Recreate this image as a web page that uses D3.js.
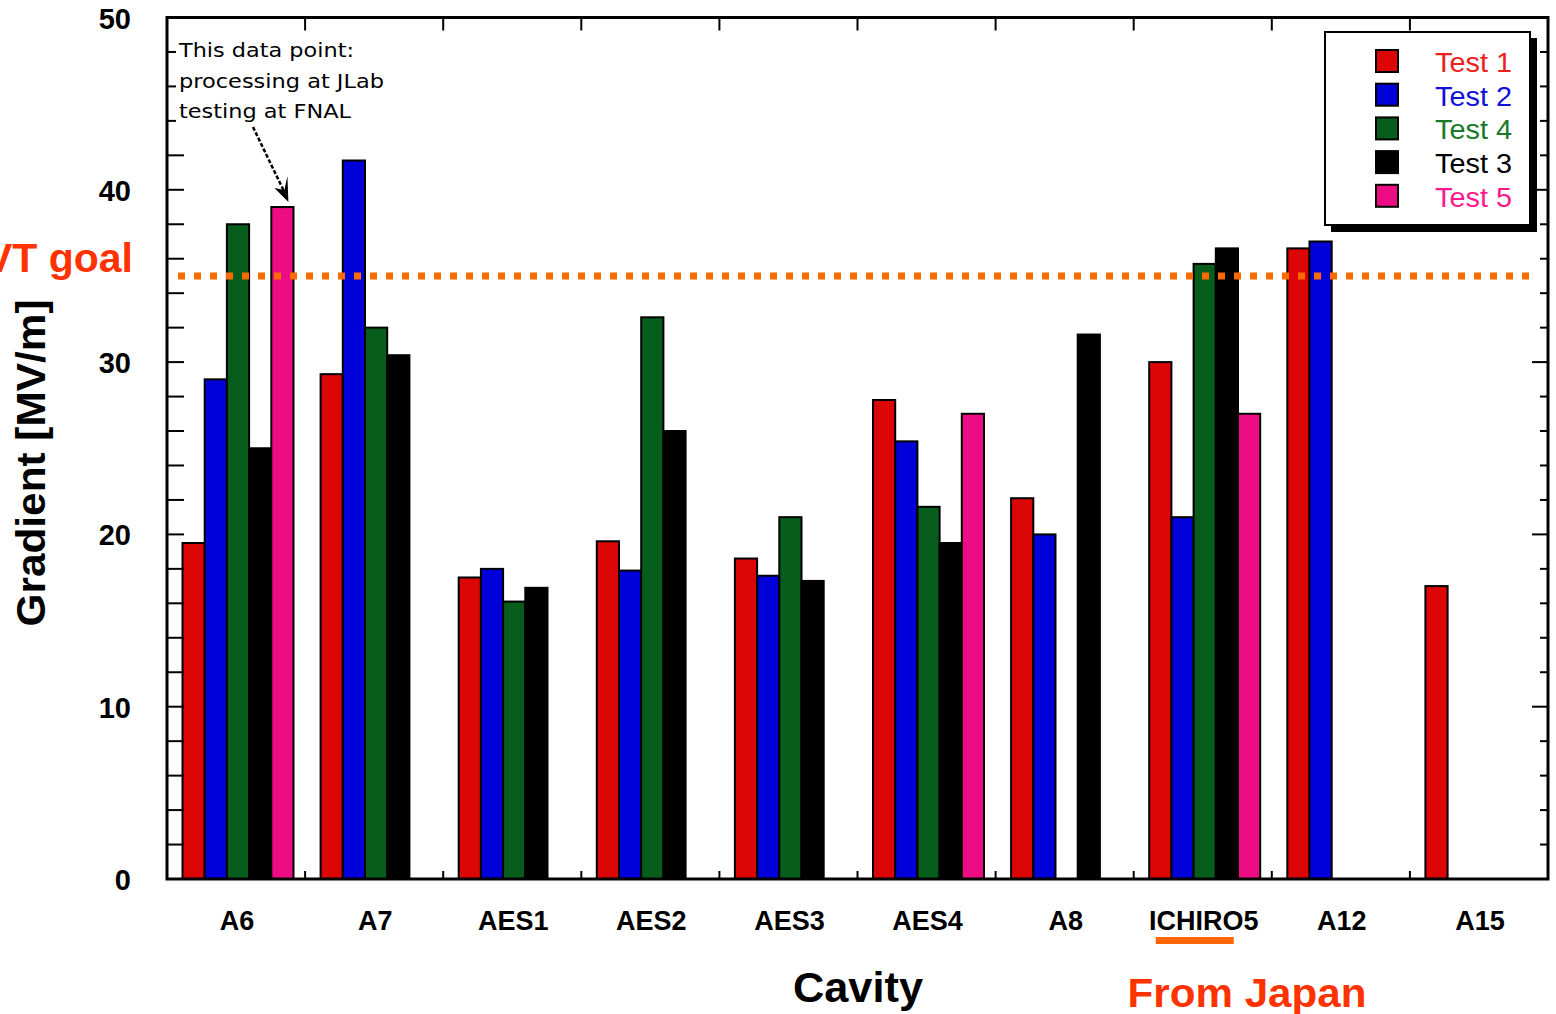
<!DOCTYPE html>
<html>
<head>
<meta charset="utf-8">
<script src="https://cdn.jsdelivr.net/npm/d3@7"></script>
<style>
  html, body { margin: 0; padding: 0; background: #fff; }
  svg { display: block; }
</style>
</head>
<body>
<svg id="chart" width="1556" height="1014"></svg>
<script>
// Cavity names along the x axis
const categories = ["A6", "A7", "AES1", "AES2", "AES3", "AES4", "A8", "ICHIRO5", "A12", "A15"];

// Accelerating gradient per test, MV/m (null = not tested)
const test1 = [19.5, 29.3, 17.5, 19.6, 18.6, 27.8, 22.1, 30.0, 36.6, 17.0];
const test2 = [29.0, 41.7, 18.0, 17.9, 17.6, 25.4, 20.0, 21.0, 37.0, null];
const test4 = [38.0, 32.0, 16.1, 32.6, 21.0, 21.6, null, 35.7, null, null];
const test3 = [25.0, 30.4, 16.9, 26.0, 17.3, 19.5, 31.6, 36.6, null, null];
const test5 = [39.0, null, null, null, null, 27.0, null, 27.0, null, null];

const seriesNames = ["Test 1", "Test 2", "Test 4", "Test 3", "Test 5"];
const seriesValues = [test1, test2, test4, test3, test5];
const seriesFill = ["#dd0606", "#0000d8", "#075e1c", "#000000", "#ee0c84"];
const seriesText = ["#ee2020", "#1010dd", "#1a7a2a", "#000000", "#ff1a8c"];

const yTicks = [0, 10, 20, 30, 40, 50];
const goalValue = 35;

const svg = d3.select("#chart");
const L = 167, R = 1548, T = 17.5, B = 879;

const x = d3.scaleBand().domain(categories).range([L, R]).padding(0);
const x1 = d3.scaleBand().domain(seriesNames).range([15.5, 15.5 + 5 * 22.2]).padding(0);
const y = d3.scaleLinear().domain([0, 50]).range([B, T]);

// Bars
const flat = [];
categories.forEach((c, i) => {
  seriesNames.forEach((s, j) => {
    const v = seriesValues[j][i];
    if (v != null) flat.push({ c, s, v, j });
  });
});
svg.append("g").selectAll("rect").data(flat).join("rect")
  .attr("x", d => x(d.c) + x1(d.s))
  .attr("y", d => y(d.v))
  .attr("width", x1.bandwidth())
  .attr("height", d => y(0) - y(d.v))
  .attr("fill", d => seriesFill[d.j])
  .attr("stroke", "#000")
  .attr("stroke-width", 2);

// Ticks every 2 MV/m on left and right sides
const allTicks = d3.range(0, 51, 2);
const tickG = svg.append("g").attr("stroke", "#000").attr("stroke-width", 2);
tickG.selectAll("line.l").data(allTicks).join("line")
  .attr("x1", L).attr("x2", L + 17)
  .attr("y1", d => y(d)).attr("y2", d => y(d));
tickG.selectAll("line.r").data(allTicks).join("line")
  .attr("x1", R).attr("x2", d => R - (d % 10 === 0 ? 16 : 8))
  .attr("y1", d => y(d)).attr("y2", d => y(d));
// Category boundary ticks top and bottom
const bounds = categories.slice(1).map(c => x(c));
tickG.selectAll("line.t").data(bounds).join("line")
  .attr("x1", d => d).attr("x2", d => d).attr("y1", T).attr("y2", T + 13);
tickG.selectAll("line.b").data(bounds).join("line")
  .attr("x1", d => d).attr("x2", d => d).attr("y1", B).attr("y2", B - 8);

// Frame
svg.append("rect").attr("x", L).attr("y", T).attr("width", R - L).attr("height", B - T)
  .attr("fill", "none").attr("stroke", "#000").attr("stroke-width", 3);

// Y tick labels
svg.append("g").selectAll("text").data(yTicks).join("text")
  .attr("x", 131).attr("y", d => y(d) + 11)
  .attr("text-anchor", "end")
  .attr("font-family", "Liberation Sans, Arial, sans-serif")
  .attr("font-weight", "bold").attr("font-size", 29)
  .text(d => d);

// X tick labels
svg.append("g").selectAll("text").data(categories).join("text")
  .attr("x", d => x(d) + x.bandwidth() / 2 + 1).attr("y", 930)
  .attr("text-anchor", "middle")
  .attr("font-family", "Liberation Sans, Arial, sans-serif")
  .attr("font-weight", "bold").attr("font-size", 27)
  .text(d => d);

// Goal line
svg.append("line")
  .attr("x1", 178).attr("x2", 1536)
  .attr("y1", y(goalValue)).attr("y2", y(goalValue))
  .attr("stroke", "#ff6a00").attr("stroke-width", 7)
  .attr("stroke-dasharray", "7 9");

svg.append("text")
  .attr("x", 133).attr("y", 272)
  .attr("text-anchor", "end")
  .attr("font-family", "Liberation Sans, Arial, sans-serif")
  .attr("font-weight", "bold").attr("font-size", 41)
  .attr("fill", "#ff3300")
  .text("VT goal");

// Axis titles
svg.append("text")
  .attr("transform", "translate(45,463) rotate(-90)")
  .attr("text-anchor", "middle")
  .attr("font-family", "Liberation Sans, Arial, sans-serif")
  .attr("font-weight", "bold").attr("font-size", 41)
  .attr("textLength", 327).attr("lengthAdjust", "spacingAndGlyphs")
  .text("Gradient [MV/m]");

svg.append("text")
  .attr("x", 858).attr("y", 1002)
  .attr("text-anchor", "middle")
  .attr("font-family", "Liberation Sans, Arial, sans-serif")
  .attr("font-weight", "bold").attr("font-size", 43)
  .attr("textLength", 130).attr("lengthAdjust", "spacingAndGlyphs")
  .text("Cavity");

// "From Japan" note with underline below ICHIRO5
const ich = x("ICHIRO5") + x.bandwidth() / 2;
svg.append("rect")
  .attr("x", ich - 47).attr("y", 937).attr("width", 78).attr("height", 7)
  .attr("fill", "#ff6600");
svg.append("text")
  .attr("x", 1247).attr("y", 1007)
  .attr("text-anchor", "middle")
  .attr("font-family", "Liberation Sans, Arial, sans-serif")
  .attr("font-weight", "bold").attr("font-size", 40)
  .attr("textLength", 239).attr("lengthAdjust", "spacingAndGlyphs")
  .attr("fill", "#ff3300")
  .text("From Japan");

// Annotation for the A6 Test 5 point
const ann = svg.append("g");
ann.append("rect").attr("x", 176).attr("y", 35).attr("width", 215).attr("height", 92).attr("fill", "#fff");
const annLines = [
  { t: "This data point:", y: 57, w: 175 },
  { t: "processing at JLab", y: 88, w: 205 },
  { t: "testing at FNAL", y: 118, w: 172 }
];
ann.selectAll("text").data(annLines).join("text")
  .attr("x", 179).attr("y", d => d.y)
  .attr("font-family", "DejaVu Sans, sans-serif")
  .attr("font-size", 20)
  .attr("textLength", d => d.w).attr("lengthAdjust", "spacingAndGlyphs")
  .text(d => d.t);
const tipX = x("A6") + x1("Test 5") + x1.bandwidth() / 2 + 6;
const tipY = y(test5[0]) - 5;
ann.append("line")
  .attr("x1", 253).attr("y1", 127).attr("x2", tipX - 5).attr("y2", tipY - 12)
  .attr("stroke", "#000").attr("stroke-width", 2.5).attr("stroke-dasharray", "4 2");
ann.append("path")
  .attr("d", `M${tipX},${tipY} L${tipX - 14},${tipY - 14} L${tipX - 4},${tipY - 12} L${tipX - 1},${tipY - 26} Z`)
  .attr("fill", "#000");

// Legend with drop shadow
const lg = svg.append("g");
lg.append("rect").attr("x", 1331).attr("y", 38).attr("width", 206).attr("height", 194).attr("fill", "#000");
lg.append("rect").attr("x", 1325).attr("y", 32).attr("width", 205).attr("height", 193)
  .attr("fill", "#fff").attr("stroke", "#000").attr("stroke-width", 2);
const rows = lg.selectAll("g.row").data(seriesNames).join("g")
  .attr("transform", (d, i) => `translate(0,${i * 33.7})`);
rows.append("rect")
  .attr("x", 1376).attr("y", 50).attr("width", 22).attr("height", 22)
  .attr("fill", (d, i) => seriesFill[i]).attr("stroke", "#000").attr("stroke-width", 2);
rows.append("text")
  .attr("x", 1435).attr("y", 72)
  .attr("font-family", "Liberation Sans, Arial, sans-serif")
  .attr("font-size", 27)
  .attr("textLength", 77).attr("lengthAdjust", "spacingAndGlyphs")
  .attr("fill", (d, i) => seriesText[i])
  .text(d => d);
</script>
</body>
</html>
